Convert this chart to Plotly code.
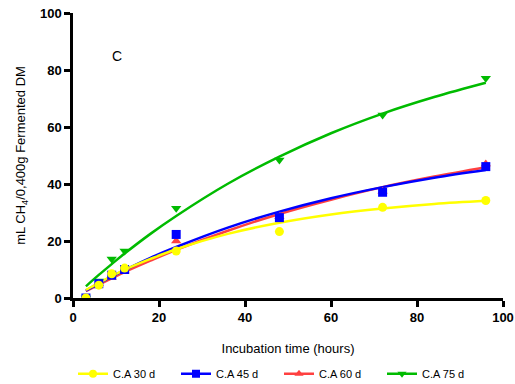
import plotly.graph_objects as go

# Measured data points (hours, mL CH4)
time_h = [3, 6, 9, 12, 24, 48, 72, 96]
ca30 = [0, 4.5, 8.5, 10.5, 16.5, 23.3, 31.8, 34.2]
ca45 = [0, 5.0, 8.0, 10.0, 22.3, 28.2, 37.1, 46.1]
ca60 = [0, 5.0, 7.2, 9.5, 20.0, 28.5, 37.5, 47.0]
ca75 = [0, 6.0, 13.7, 16.5, 31.5, 48.4, 64.2, 77.1]

# Fitted curves
fit_t = [3, 6, 9, 12, 18, 24, 36, 48, 60, 72, 84, 96]
fit30 = [2.8, 5.3, 7.7, 9.9, 13.7, 17.1, 22.5, 26.4, 29.3, 31.4, 33.0, 34.1]
fit45 = [2.6, 5.1, 7.5, 9.8, 14.1, 17.9, 24.7, 30.3, 35.0, 38.9, 42.2, 44.9]
fit60 = [2.4, 4.7, 6.9, 9.1, 13.1, 16.9, 23.6, 29.5, 34.5, 38.9, 42.6, 45.9]
fit75 = [4.1, 8.1, 11.9, 15.6, 22.5, 28.8, 40.1, 49.6, 57.8, 64.7, 70.5, 75.5]

names = ["C.A 30 d", "C.A 45 d", "C.A 60 d", "C.A 75 d"]
colors = ["#ffff00", "#0000ff", "#ff4040", "#00bb00"]
symbols = ["circle", "square", "triangle-up", "triangle-down"]
points = [ca30, ca45, ca60, ca75]
fits = [fit30, fit45, fit60, fit75]

fig = go.Figure()

# draw order: green, red, blue, yellow (yellow on top)
for i in [3, 2, 1, 0]:
    fig.add_trace(go.Scatter(x=fit_t, y=fits[i], mode="lines", line=dict(color=colors[i], width=2.5, shape="spline"),
                             showlegend=False, hoverinfo="skip"))
for i in [3, 2, 1, 0]:
    fig.add_trace(go.Scatter(x=time_h, y=points[i], mode="markers",
                             marker=dict(color=colors[i], symbol=symbols[i], size=9),
                             showlegend=False))
for i in range(4):
    fig.add_trace(go.Scatter(x=[None], y=[None], mode="lines+markers", name=names[i],
                             line=dict(color=colors[i], width=2.5),
                             marker=dict(color=colors[i], symbol=symbols[i], size=8)))

axis_common = dict(showline=True, linecolor="black", linewidth=2.5, ticks="outside", ticklen=6, tickwidth=2.5,
                   tickcolor="black", showgrid=False, zeroline=False, range=[0, 100], dtick=20,
                   tickfont=dict(family="Liberation Sans", size=13, color="black", weight="bold"))

fig.update_layout(
    width=515, height=384,
    margin=dict(l=73, r=12, t=13, b=86, autoexpand=False),
    plot_bgcolor="white", paper_bgcolor="white",
    font=dict(family="Liberation Sans", color="black"),
    xaxis=dict(**axis_common, title=dict(text="Incubation time (hours)", font=dict(size=13), standoff=20)),
    yaxis=dict(**axis_common, title=dict(text="mL CH<sub>4</sub>/0,400g Fermented DM", font=dict(size=13), standoff=12)),
    legend=dict(orientation="h", x=0.0, xanchor="left", y=-0.215, yanchor="top",
                font=dict(size=11), entrywidth=58, entrywidthmode="pixels", itemwidth=30),
    annotations=[dict(x=10.2, y=85, xref="x", yref="y", text="C", showarrow=False, font=dict(size=14))],
)

fig.write_html("out.html")
